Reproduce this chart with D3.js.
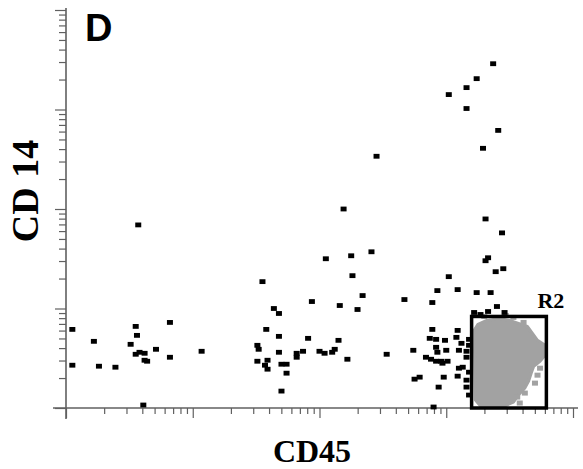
<!DOCTYPE html>
<html><head><meta charset="utf-8">
<script src="https://cdn.jsdelivr.net/npm/d3@7"></script>
<style>body{margin:0;background:#fff}svg{display:block}</style>
</head><body>
<script>
// Values are log10 fluorescence intensities (decades)
const cd45 = [0.05,0.05,0.22,0.26,0.39,0.55,0.56,0.51,0.55,0.58,0.62,0.62,0.64,0.71,0.82,0.82,0.61,1.07,0.57,
  1.55,1.64,1.68,1.58,1.68,1.51,1.52,1.68,1.51,1.59,1.57,1.59,1.70,1.74,1.74,1.70,1.94,1.91,1.82,1.82,1.87,2.00,2.04,2.10,2.12,2.15,2.22,2.16,2.30,2.34,2.19,2.05,2.25,2.41,2.26,2.53,2.67,2.45,
  2.74,2.75,2.79,2.89,2.93,3.09,3.24,3.02,3.35,2.89,2.87,2.92,2.99,2.92,2.93,3.00,2.84,2.88,2.92,2.96,3.01,2.97,2.98,2.94,2.90,
  3.09,3.08,3.12,3.10,3.16,3.16,3.10,3.13,3.09,3.16,3.16,3.18,3.18,3.18,3.18,
  3.40,3.33,3.27,3.46,3.22,3.33,3.31,3.39,3.45,3.31,3.44,3.29,3.41,3.16,3.02,3.16,3.24,3.37];
const cd14 = [0.79,0.43,0.67,0.42,0.41,0.82,0.73,0.64,0.54,0.56,0.55,0.48,0.47,0.59,0.86,0.51,0.03,0.57,1.84,
  1.27,1.00,0.95,0.79,0.72,0.63,0.59,0.56,0.47,0.48,0.43,0.39,0.44,0.44,0.35,0.17,1.07,0.70,0.55,0.51,0.57,0.57,0.55,0.56,0.59,0.68,0.49,1.03,0.99,1.13,2.00,1.50,1.53,1.57,1.33,0.54,1.09,2.53,
  0.58,0.29,0.31,1.06,1.18,1.19,1.16,1.32,1.16,0.79,0.70,0.69,0.68,0.61,0.56,0.58,0.51,0.49,0.47,0.47,0.47,0.45,0.31,0.21,0.01,
  0.78,0.71,0.65,0.58,0.57,0.51,0.40,0.41,0.32,0.28,0.21,0.69,0.63,0.36,0.13,
  1.02,0.97,0.94,0.96,0.96,1.51,1.48,1.37,1.40,1.90,1.76,2.61,2.79,3.01,3.15,3.22,3.31,3.46];

// Gated population R2 (outline of dense grey cluster), decades
const clusterCD45 = [3.32,3.42,3.50,3.57,3.64,3.68,3.72,3.78,3.78,3.74,3.69,3.67,3.65,3.62,3.57,3.53,3.46,3.27,3.23,3.22,3.25];
const clusterCD14 = [0.88,0.90,0.88,0.85,0.82,0.75,0.68,0.63,0.53,0.47,0.42,0.35,0.27,0.20,0.13,0.06,0.02,0.02,0.08,0.78,0.84];
const greyCD45 = [3.70,3.62,3.56,3.74,3.61,3.47,3.72,3.58,3.30,3.53];
const greyCD14 = [0.25,0.15,0.11,0.40,0.86,0.93,0.33,0.05,0.92,0.91];

const gateCD45 = [3.20, 3.79];
const gateCD14 = [0.00, 0.92];
const gateLabel = "R2";
const panelLabel = "D";
const xLabel = "CD45";
const yLabel = "CD 14";

const W = 583, H = 469;
const svg = d3.select("body").append("svg").attr("width", W).attr("height", H);
const x = d3.scaleLog().domain([1, 1e4]).range([66, 573]);
const y = d3.scaleLog().domain([1, 1e4]).range([408, 10]);
const p = v => Math.pow(10, v);
const axisCol = "#606060";

// axes
const xa = svg.append("g").attr("transform", "translate(0,408)")
  .call(d3.axisBottom(x).tickValues(x.ticks()).tickFormat("").tickSize(6).tickSizeOuter(0));
const ya = svg.append("g").attr("transform", "translate(66,0)")
  .call(d3.axisLeft(y).tickValues(y.ticks()).tickFormat("").tickSize(7).tickSizeOuter(0));
[xa, ya].forEach(g => {
  g.select(".domain").remove();
  g.selectAll(".tick line").attr("stroke", axisCol).attr("stroke-width", 1.2);
});
const isMajor = d => Math.abs(Math.log10(d) - Math.round(Math.log10(d))) < 1e-9;
xa.selectAll(".tick line").filter(isMajor).attr("y2", 10);
ya.selectAll(".tick line").filter(isMajor).attr("x2", -11);
svg.append("line").attr("x1", 53).attr("x2", 578).attr("y1", 408).attr("y2", 408)
  .attr("stroke", axisCol).attr("stroke-width", 1.6);
svg.append("line").attr("x1", 66).attr("x2", 66).attr("y1", 8).attr("y2", 419)
  .attr("stroke", axisCol).attr("stroke-width", 1.6);

// grey cluster
const poly = clusterCD45.map((v, i) => [x(p(v)), y(p(clusterCD14[i]))]);
svg.append("path").attr("d", d3.line().curve(d3.curveLinearClosed)(poly))
  .attr("fill", "#a2a2a2").attr("stroke", "#a2a2a2").attr("stroke-width", 3).attr("stroke-linejoin", "round");
svg.selectAll(".gd").data(greyCD45).join("rect")
  .attr("x", (d) => x(p(d)) - 3).attr("y", (d, i) => y(p(greyCD14[i])) - 2.5)
  .attr("width", 6).attr("height", 5).attr("fill", "#a2a2a2");

// black events
svg.selectAll(".bd").data(cd45).join("rect")
  .attr("x", d => x(p(d)) - 3).attr("y", (d, i) => y(p(cd14[i])) - 2.4)
  .attr("width", 6).attr("height", 4.8).attr("fill", "#000");

// gate
svg.append("rect")
  .attr("x", x(p(gateCD45[0]))).attr("y", y(p(gateCD14[1])))
  .attr("width", x(p(gateCD45[1])) - x(p(gateCD45[0])))
  .attr("height", y(p(gateCD14[0])) - y(p(gateCD14[1])))
  .attr("fill", "none").attr("stroke", "#000").attr("stroke-width", 3.5);
svg.append("text").attr("x", x(p(gateCD45[1])) - 9).attr("y", y(p(gateCD14[1])) - 8)
  .attr("font-family", "Liberation Serif, Times New Roman, serif").attr("font-weight", "bold")
  .attr("font-size", 22).text(gateLabel);

// labels
svg.append("text").attr("x", 85).attr("y", 41)
  .attr("font-family", "Liberation Sans, Arial, sans-serif").attr("font-weight", "bold")
  .attr("font-size", 38).text(panelLabel);
svg.append("text").attr("x", 312).attr("y", 462).attr("text-anchor", "middle")
  .attr("font-family", "Liberation Serif, Times New Roman, serif").attr("font-weight", "bold")
  .attr("font-size", 32).text(xLabel);
svg.append("text").attr("transform", "translate(38,191) rotate(-90)").attr("text-anchor", "middle")
  .attr("font-family", "Liberation Serif, Times New Roman, serif").attr("font-weight", "bold")
  .attr("font-size", 38).text(yLabel);
</script>
</body></html>
